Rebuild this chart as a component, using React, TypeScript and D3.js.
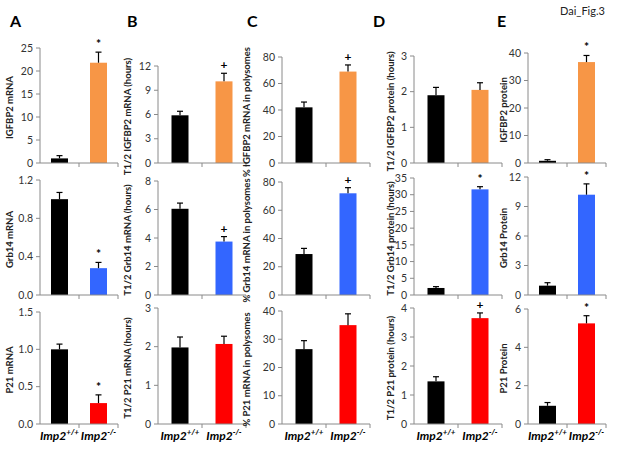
import React from "react";
import { scaleLinear, scaleBand, range } from "d3";

// groups and colours
const groups = ["wt", "ko"];
const rowColors = ["#f79646", "#3366ff", "#ff0000"];

// column A: steady-state mRNA
const titlesA = ["IGFBP2 mRNA", "Grb14 mRNA", "P21 mRNA"];
const meansA = [[1.0, 21.8], [1.0, 0.28], [1.0, 0.28]];
const errsA = [[0.6, 2.3], [0.07, 0.06], [0.07, 0.11]];
const maxA = [25, 1.2, 1.5];
const stepA = [5, 0.4, 0.5];
const marksA = ["*", "*", "*"];

// column B: mRNA half-life
const titlesB = ["T1/2 IGFBP2 mRNA  (hours)", "T1/2 Grb14 mRNA  (hours)", "T1/2 P21 mRNA  (hours)"];
const meansB = [[5.9, 10.1], [6.05, 3.75], [1.98, 2.07]];
const errsB = [[0.5, 1.0], [0.4, 0.35], [0.27, 0.2]];
const maxB = [12, 8, 3];
const stepB = [3, 2, 1];
const marksB = ["+", "+", ""];

// column C: polysome fraction
const titlesC = ["% IGFBP2 mRNA in polysomes", "% Grb14 mRNA in polysomes", "% P21 mRNA in polysomes"];
const meansC = [[42, 69], [29, 72], [26.5, 35]];
const errsC = [[4, 5], [4, 4], [3, 4]];
const maxC = [80, 80, 40];
const stepC = [20, 20, 10];
const marksC = ["+", "+", ""];

// column D: protein half-life
const titlesD = ["T1/2 IGFBP2 protein (hours)", "T1/2 Grb14 protein (hours)", "T1/2 P21 protein (hours)"];
const meansD = [[1.9, 2.05], [2.1, 31.6], [1.47, 3.65]];
const errsD = [[0.22, 0.2], [0.4, 0.8], [0.16, 0.18]];
const maxD = [3, 35, 4];
const stepD = [1, 5, 1];
const marksD = ["", "*", "+"];

// column E: protein level
const titlesE = ["IGFBP2  protein", "Grb14 Protein", "P21 Protein"];
const meansE = [[0.8, 36.7], [0.95, 10.2], [0.95, 5.25]];
const errsE = [[0.4, 2.4], [0.3, 1.1], [0.17, 0.4]];
const maxE = [40, 12, 6];
const stepE = [10, 3, 2];
const marksE = ["*", "*", "*"];

const columns = [
  { letter: "A", titles: titlesA, means: meansA, errs: errsA, max: maxA, step: stepA, marks: marksA, fmt: [0, 1, 1] },
  { letter: "B", titles: titlesB, means: meansB, errs: errsB, max: maxB, step: stepB, marks: marksB, fmt: [0, 0, 0] },
  { letter: "C", titles: titlesC, means: meansC, errs: errsC, max: maxC, step: stepC, marks: marksC, fmt: [0, 0, 0] },
  { letter: "D", titles: titlesD, means: meansD, errs: errsD, max: maxD, step: stepD, marks: marksD, fmt: [0, 0, 0] },
  { letter: "E", titles: titlesE, means: meansE, errs: errsE, max: maxE, step: stepE, marks: marksE, fmt: [0, 0, 0] },
];

// layout
const colX = [[40, 118], [158, 246], [282, 370], [414, 502], [528, 606]];
const colTitleX = [10, 128, 247, 391, 504];
const colLetterX = [10, 127, 247, 373, 497];
const rowBottom = [163, 295, 424];
const panelTop = [
  [48, 66, 57, 56, 53],
  [180, 181, 182, 178, 177],
  [312, 308, 311, 308, 309],
];
const barW = 17;
const font = "Lato, 'Open Sans', sans-serif";

const Panel = ({ col, row }: { col: number; row: number }) => {
  const c = columns[col];
  const [x0, x1] = colX[col];
  const y0 = rowBottom[row];
  const y1 = panelTop[row][col];
  const yMax = c.max[row];
  const y = scaleLinear().domain([0, yMax]).range([y0, y1]);
  const x = scaleBand().domain(groups).range([x0, x1]);
  const ticks = range(0, yMax + c.step[row] / 2, c.step[row]);
  const means = c.means[row];
  const errs = c.errs[row];
  const mid = (x0 + x1) / 2;
  const tx = colTitleX[col];
  const ty = (y0 + y1) / 2 + 2;
  return (
    <g>
      {/* y axis */}
      <line x1={x0} x2={x0} y1={y1} y2={y0} stroke="#8a8a8a" />
      {ticks.map((t) => (
        <g key={t}>
          <line x1={x0 - 4} x2={x0} y1={y(t)} y2={y(t)} stroke="#8a8a8a" />
          <text x={x0 - 7} y={y(t)} dy="0.35em" textAnchor="end" fontSize={10.5} fill="#333" fontFamily={font}>
            {t.toFixed(c.fmt[row])}
          </text>
        </g>
      ))}
      {/* bars */}
      {groups.map((g, i) => {
        const cx = (x(g) as number) + x.bandwidth() / 2;
        const top = y(means[i] + errs[i]);
        return (
          <g key={g}>
            <rect x={cx - barW / 2} y={y(means[i])} width={barW} height={y0 - y(means[i])}
              fill={i === 0 ? "#000" : rowColors[row]} />
            <line x1={cx} x2={cx} y1={y(means[i])} y2={top} stroke="#000" strokeWidth={1.2} />
            <line x1={cx - 3} x2={cx + 3} y1={top} y2={top} stroke="#000" strokeWidth={1.2} />
            {i === 1 && c.marks[row] && (
              <text x={cx} y={top - 4} textAnchor="middle" fontSize={12} fontWeight="bold" fontFamily={font}>
                {c.marks[row]}
              </text>
            )}
          </g>
        );
      })}
      {/* x axis */}
      <line x1={x0} x2={x1} y1={y0} y2={y0} stroke="#8a8a8a" />
      <line x1={mid} x2={mid} y1={y0} y2={y0 + 4} stroke="#8a8a8a" />
      <line x1={x1} x2={x1} y1={y0} y2={y0 + 4} stroke="#8a8a8a" />
      {/* y title */}
      <text transform={`translate(${tx},${ty}) rotate(-90)`} textAnchor="middle" dy="0.35em"
        fontSize={9.5} fontWeight="bold" fill="#222" fontFamily={font}>
        {c.titles[row]}
      </text>
      {/* x labels on last row */}
      {row === 2 && groups.map((g, i) => {
        const cx = (x(g) as number) + x.bandwidth() / 2;
        return (
          <text key={g} x={cx} y={y0 + 16} textAnchor="middle" fontSize={12} fontWeight="bold"
            fontStyle="italic" fontFamily={font}>
            Imp2<tspan fontSize={8} dy={-5}>{i === 0 ? "+/+" : "-/-"}</tspan>
          </text>
        );
      })}
    </g>
  );
};

export default function App() {
  return (
    <svg width={617} height={462} style={{ position: "absolute", left: 0, top: 0, background: "#fff" }}>
      <rect width={617} height={462} fill="#fff" />
      <text x={560} y={15} fontSize={11} fontFamily={font} fill="#222">Dai_Fig.3</text>
      {columns.map((c, ci) => (
        <text key={c.letter} x={colLetterX[ci]} y={27} fontSize={16} fontWeight="bold" fontFamily={font}>
          {c.letter}
        </text>
      ))}
      {columns.map((c, ci) => [0, 1, 2].map((r) => <Panel key={`${ci}-${r}`} col={ci} row={r} />))}
    </svg>
  );
}
